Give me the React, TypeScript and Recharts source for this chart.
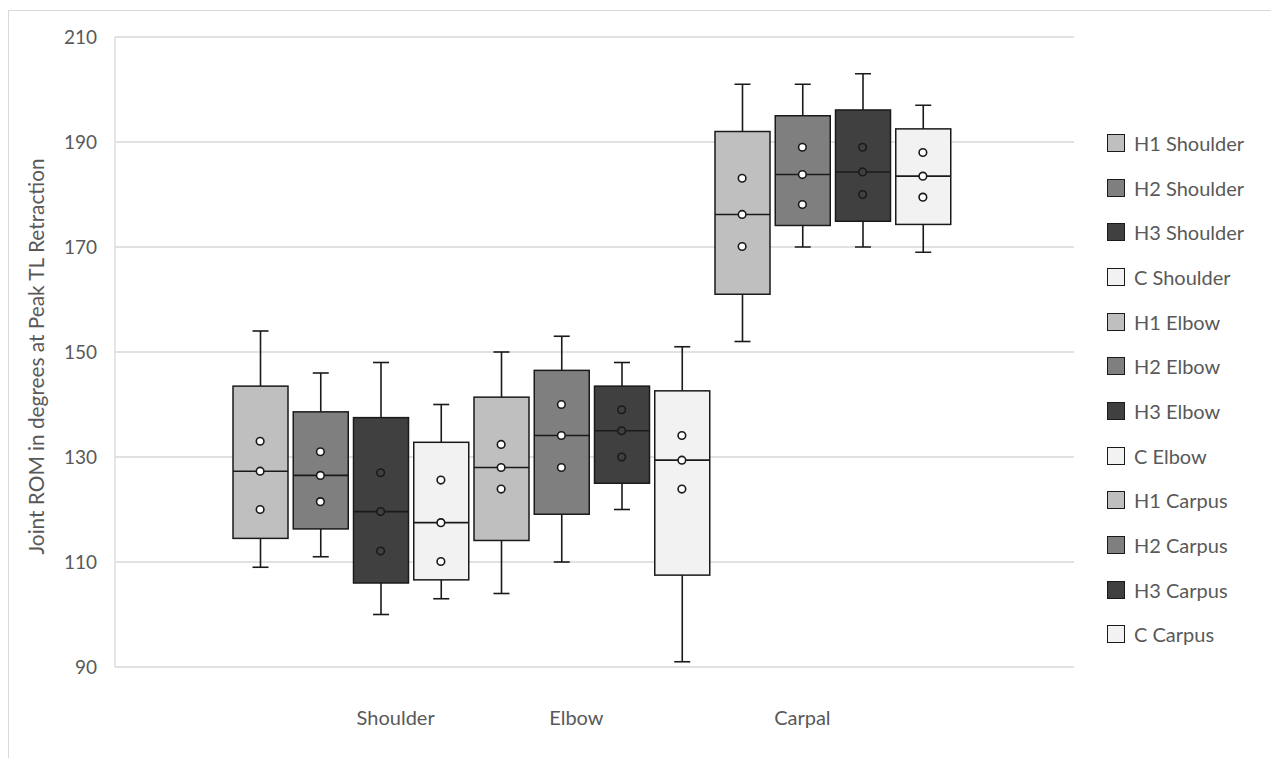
import React from 'react';
import { ComposedChart, Bar, Scatter, XAxis, YAxis, CartesianGrid } from 'recharts';

const seriesNames = [
  'H1 Shoulder', 'H2 Shoulder', 'H3 Shoulder', 'C Shoulder',
  'H1 Elbow', 'H2 Elbow', 'H3 Elbow', 'C Elbow',
  'H1 Carpus', 'H2 Carpus', 'H3 Carpus', 'C Carpus',
];
const groupLabels = ['Shoulder', 'Elbow', 'Carpal'];
// the category label sits under these series slots (with a small shift in px)
const groupLabelAnchors = ['H3 Shoulder', 'H2 Elbow', 'H2 Carpus'];
const groupLabelShift = [15, 15, 0];

const minValues = [109, 111, 100, 103, 104, 110, 120, 91, 152, 170, 170, 169];
const q1Values = [114.5, 116.3, 106, 106.6, 114.1, 119.1, 125, 107.5, 161, 174.1, 174.9, 174.3];
const medianValues = [127.3, 126.5, 119.6, 117.5, 128, 134.1, 135, 129.4, 176.2, 183.8, 184.3, 183.5];
const q3Values = [143.5, 138.6, 137.5, 132.8, 141.4, 146.5, 143.5, 142.6, 192, 195, 196.1, 192.5];
const maxValues = [154, 146, 148, 140, 150, 153, 148, 151, 201, 201, 203, 197];
const upperPoints = [133, 131, 127, 125.6, 132.4, 140, 139, 134.1, 183.1, 189, 189, 188];
const meanPoints = [127.3, 126.5, 119.6, 117.5, 128, 134.1, 135, 129.4, 176.2, 183.8, 184.3, 183.5];
const lowerPoints = [120, 121.5, 112.1, 110.1, 123.9, 128, 130, 123.9, 170.1, 178.1, 180, 179.5];

const yTicks = [90, 110, 130, 150, 170, 190, 210];

const fills = ['#bfbfbf', '#7f7f7f', '#404040', '#f2f2f2'];
const markerFills = ['#ffffff', '#ffffff', '#404040', '#ffffff'];

const data = seriesNames.map((name, i) => ({
  name,
  min: minValues[i],
  q1: q1Values[i],
  median: medianValues[i],
  q3: q3Values[i],
  max: maxValues[i],
  hi: upperPoints[i],
  mean: meanPoints[i],
  lo: lowerPoints[i],
  fill: fills[i % 4],
  markerFill: markerFills[i % 4],
}));

const FONT = 'Lato, "Open Sans", sans-serif';
const TEXT = '#595959';
const LINE = '#1a1a1a';

const BoxShape = (props: any) => {
  const { x, y, width, height, payload } = props;
  if (!payload) return null;
  const top = Math.min(y, y + height);
  const h = Math.abs(height);
  const { min, max, q1, q3, median, fill } = payload;
  const px = (v: number) => top + ((max - v) / (max - min)) * h;
  const cx = x + width / 2;
  const cap = 8;
  return (
    <g>
      <line x1={cx} x2={cx} y1={px(max)} y2={px(q3)} stroke={LINE} strokeWidth={1.6} />
      <line x1={cx} x2={cx} y1={px(q1)} y2={px(min)} stroke={LINE} strokeWidth={1.6} />
      <line x1={cx - cap} x2={cx + cap} y1={px(max)} y2={px(max)} stroke={LINE} strokeWidth={1.6} />
      <line x1={cx - cap} x2={cx + cap} y1={px(min)} y2={px(min)} stroke={LINE} strokeWidth={1.6} />
      <rect x={x} y={px(q3)} width={width} height={px(q1) - px(q3)} fill={fill} stroke={LINE} strokeWidth={1.5} />
      <line x1={x} x2={x + width} y1={px(median)} y2={px(median)} stroke={LINE} strokeWidth={1.6} />
    </g>
  );
};

const PointShape = (props: any) => {
  const { cx, cy, payload } = props;
  if (cx == null || cy == null) return null;
  return <circle cx={cx} cy={cy} r={3.8} fill={payload.markerFill} stroke={LINE} strokeWidth={1.6} />;
};

const GroupTick = (props: any) => {
  const { x, y, payload } = props;
  const idx = groupLabelAnchors.indexOf(payload.value);
  if (idx < 0) return <g />;
  return (
    <text
      x={x + groupLabelShift[idx]}
      y={y + 28}
      textAnchor="middle"
      fontFamily={FONT}
      fontSize={20}
      fill={TEXT}
    >
      {groupLabels[idx]}
    </text>
  );
};

const YTitle = (props: any) => {
  const vb = props.viewBox || { x: 0, y: 26, width: 106, height: 630 };
  const x = vb.x + 26;
  const y = vb.y + vb.height / 2 + 4.5;
  return (
    <text
      x={x}
      y={y}
      transform={`rotate(-90, ${x}, ${y})`}
      textAnchor="middle"
      dominantBaseline="central"
      fontFamily={FONT}
      fontSize={20.8}
      fill={TEXT}
    >
      Joint ROM in degrees at Peak TL Retraction
    </text>
  );
};

export default function App() {
  return (
    <div
      style={{
        position: 'relative',
        top: 2,
        width: 1265,
        height: 770,
        boxSizing: 'border-box',
        border: '1px solid #d9d9d9',
        background: '#ffffff',
        overflow: 'hidden',
      }}
    >
      <div style={{ position: 'absolute', left: 0, top: 0 }}>
        <ComposedChart
          width={1263}
          height={746}
          data={data}
          margin={{ top: 26, right: 198, bottom: 10, left: 0 }}
        >
          <CartesianGrid horizontal vertical={false} stroke="#d9d9d9" strokeWidth={1.3} />
          <XAxis dataKey="name" hide padding={{ left: 115, right: 121 }} />
          <XAxis
            xAxisId="lab"
            dataKey="name"
            padding={{ left: 115, right: 121 }}
            axisLine={false}
            tickLine={false}
            tickSize={0}
            tickMargin={0}
            height={80}
            tick={<GroupTick />}
            interval={0}
          />
          <YAxis
            type="number"
            domain={[90, 210]}
            ticks={yTicks}
            allowDataOverflow
            width={106}
            axisLine={{ stroke: '#d9d9d9', strokeWidth: 1.3 }}
            tickLine={false}
            tickSize={6}
            tickMargin={12}
            tick={{ fontFamily: FONT, fontSize: 19, fill: TEXT }}
            label={<YTitle />}
          />
          <Bar
            dataKey={(d: any) => [d.min, d.max]}
            barSize={55}
            shape={<BoxShape />}
            isAnimationActive={false}
          />
          <Scatter dataKey="hi" shape={<PointShape />} isAnimationActive={false} />
          <Scatter dataKey="mean" shape={<PointShape />} isAnimationActive={false} />
          <Scatter dataKey="lo" shape={<PointShape />} isAnimationActive={false} />
        </ComposedChart>
      </div>
      <div
        style={{
          position: 'absolute',
          left: 1098,
          top: 109.66,
          fontFamily: FONT,
          fontSize: 20,
          color: TEXT,
        }}
      >
        {seriesNames.map((name, i) => (
          <div key={name} style={{ height: 44.68, display: 'flex', alignItems: 'center', whiteSpace: 'nowrap' }}>
            <div
              style={{
                width: 18,
                height: 18,
                boxSizing: 'border-box',
                background: fills[i % 4],
                border: `1.5px solid ${LINE}`,
                marginRight: 9,
                flex: 'none',
              }}
            />
            <span>{name}</span>
          </div>
        ))}
      </div>
    </div>
  );
}
